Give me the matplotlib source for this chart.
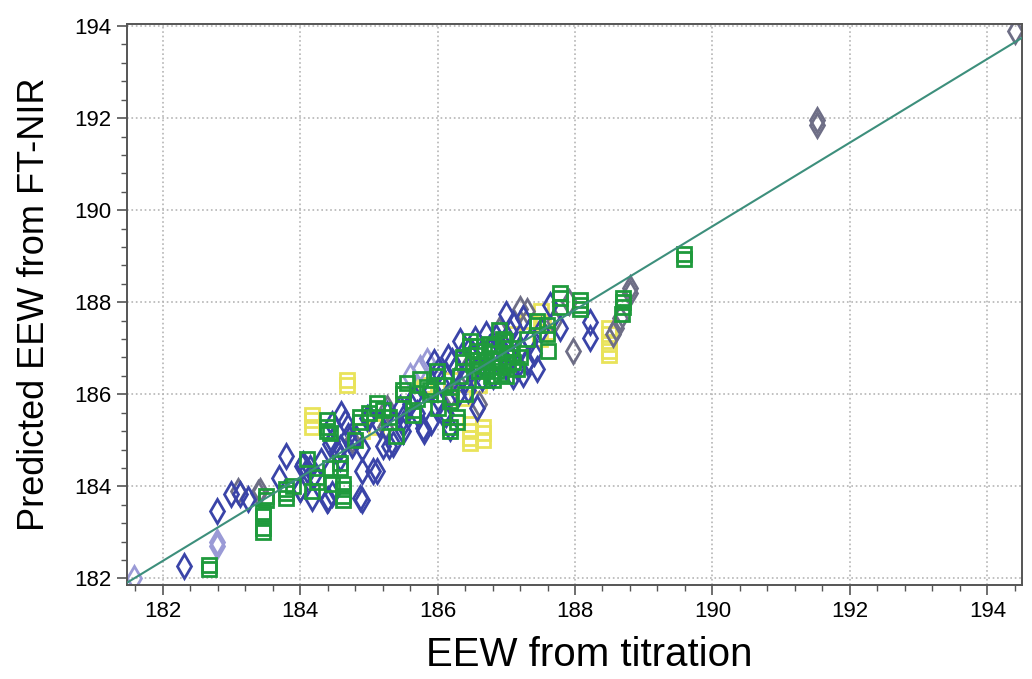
import matplotlib
matplotlib.use("Agg")
import matplotlib.pyplot as plt
from matplotlib.ticker import MultipleLocator
import numpy as np

# values (EEW from titration, predicted EEW)
blue_x = [182.31, 182.79, 183.0, 183.12, 183.24, 183.7, 183.8, 184.0, 184.03, 184.1,
          184.18, 184.4, 184.6, 184.58, 184.47, 184.9, 184.9, 184.9, 185.12, 185.2,
          185.3, 185.26, 185.49, 185.5, 185.79, 186.08, 186.18, 186.21, 186.32, 186.57,
          187.0, 187.1, 187.24, 187.63, 187.78, 188.22, 188.22, 185.8, 186.13, 185.6,
          185.35, 184.3, 184.7, 185.9, 186.0, 186.4, 186.6, 186.8, 186.9, 187.0,
          187.2, 187.4, 187.5, 186.7, 186.5, 185.7, 186.3, 187.1, 186.0, 185.9,
          184.2, 185.0, 184.04, 184.14, 184.39, 184.47, 184.53, 184.43, 184.87, 184.82,
          184.97, 184.58, 184.47, 185.06, 185.5, 187.3, 186.45,
          186.55, 186.75, 186.95, 187.15, 186.65, 186.85, 187.05, 187.35, 186.25, 186.05,
          185.65, 185.45, 185.15, 184.75, 184.65, 185.95, 186.35, 187.25, 187.45, 186.15]
blue_y = [182.28, 183.47, 183.84, 183.84, 183.72, 184.19, 184.66, 183.95, 184.45, 184.35,
          183.75, 183.73, 185.57, 184.84, 185.35, 184.34, 183.70, 184.84, 184.34, 184.88,
          184.88, 185.57, 185.48, 185.20, 185.27, 185.57, 185.27, 186.72, 187.15, 185.70,
          187.74, 187.52, 187.65, 187.95, 187.43, 187.58, 187.22, 185.20, 185.57, 185.79,
          184.92, 184.55, 185.10, 186.10, 185.90, 186.30, 186.60, 186.40, 187.10, 186.60,
          187.00, 186.90, 187.40, 187.30, 186.90, 185.60, 186.00, 186.40, 186.50, 185.40,
          184.25, 185.50, 184.49, 184.40, 183.70, 183.84, 184.77, 184.92, 183.75, 185.05,
          185.48, 184.62, 184.99, 184.34, 185.35, 186.70, 186.10,
          187.20, 187.00, 186.80, 186.60, 186.35, 187.25, 187.35, 187.15, 186.55, 186.25,
          185.95, 185.70, 185.35, 184.90, 185.40, 186.70, 186.85, 186.45, 186.55, 186.80]

grey_x = [183.41, 183.38, 184.0, 185.26, 185.23, 186.61, 187.3, 187.92, 187.97, 188.6,
          188.65, 188.8, 188.8, 188.55, 191.52, 191.52, 194.4, 187.7, 186.9, 186.2,
          183.1, 184.75, 187.2, 186.4]
grey_y = [183.90, 183.86, 183.95, 185.70, 185.30, 185.79, 187.80, 188.00, 186.94, 187.43,
          187.65, 188.30, 188.20, 187.30, 191.85, 191.95, 193.90, 187.60, 187.40, 186.00,
          183.90, 185.00, 187.85, 186.50]

lav_x = [181.58, 182.79, 182.79, 185.74, 185.84, 185.6]
lav_y = [182.00, 182.71, 182.80, 186.57, 186.72, 186.40]

green_x = [182.68, 182.68, 183.46, 183.46, 183.46, 183.46, 183.5, 183.5, 183.8, 183.8,
           183.8, 184.17, 184.24, 184.24, 184.43, 184.47, 184.62, 184.62, 184.58, 184.58,
           184.62, 184.62, 184.39, 184.39, 184.39, 184.43, 184.87, 184.87, 185.12, 185.12,
           185.3, 185.3, 185.49, 185.49, 185.64, 185.64, 185.89, 185.89, 185.99, 185.99,
           186.18, 186.18, 186.18, 186.18, 186.28, 186.28, 186.32, 186.37, 186.37, 186.47,
           186.47, 186.57, 186.57, 186.6, 186.7, 186.8, 186.9, 186.75, 187.0, 187.05,
           187.1, 186.85, 186.95, 187.2, 186.65, 186.8, 187.0, 187.44, 187.44, 187.59,
           187.59, 187.78, 187.78, 187.78, 188.07, 188.07, 188.07, 188.7, 188.7, 188.7,
           188.68, 189.58, 189.58, 185.0, 185.7, 186.0, 186.4, 185.4, 184.1, 183.9,
           185.74, 187.6, 187.3, 186.9, 187.15,
           186.62, 186.72, 186.82, 186.92, 187.02, 186.52, 186.68, 186.88, 187.08, 186.78,
           186.58, 186.98, 185.55, 185.85, 186.1, 184.8, 185.2]
green_y = [182.20, 182.30, 183.00, 183.10, 183.35, 183.45, 183.70, 183.80, 183.75, 183.85,
           183.95, 183.90, 184.10, 184.20, 184.40, 184.05, 183.95, 184.05, 184.40, 184.50,
           183.70, 183.80, 185.20, 185.30, 185.45, 185.15, 185.40, 185.50, 185.80, 185.70,
           185.40, 185.50, 186.00, 186.10, 185.55, 185.65, 186.00, 186.10, 186.40, 186.50,
           185.85, 185.95, 185.20, 185.30, 185.50, 185.40, 186.40, 186.70, 186.80, 187.05,
           187.15, 186.85, 186.95, 186.50, 186.70, 186.90, 186.60, 187.10, 186.80, 187.00,
           186.70, 186.50, 187.20, 186.80, 186.30, 186.30, 186.40, 187.50, 187.60, 187.50,
           187.30, 188.10, 188.20, 187.90, 187.95, 188.05, 187.85, 187.90, 188.00, 188.10,
           187.75, 188.95, 189.05, 185.60, 185.90, 185.70, 186.00, 185.10, 184.60, 184.00,
           186.33, 186.95, 187.20, 187.40, 186.55,
           186.75, 186.55, 187.05, 186.45, 186.65, 186.65, 186.95, 186.75, 186.90, 186.40,
           187.05, 187.15, 186.25, 186.15, 186.20, 185.00, 185.65]

yellow_x = [184.18, 184.18, 184.18, 184.68, 184.68, 185.5, 186.37, 186.47, 186.47, 186.47,
            186.47, 186.66, 186.66, 186.66, 186.2, 185.8, 187.49, 187.59, 187.3, 187.5,
            188.5, 188.5, 188.5, 188.5, 188.5, 185.1, 184.9, 186.6, 187.1, 187.53]
yellow_y = [185.30, 185.45, 185.55, 186.20, 186.30, 186.00, 185.92, 185.35, 185.20, 185.05,
            184.95, 185.30, 185.15, 185.00, 186.30, 186.20, 187.20, 187.35, 187.60, 187.80,
            187.45, 187.30, 187.10, 186.95, 186.85, 185.30, 185.20, 186.20, 187.30, 187.58]

# calibration line: predicted = slope * titration + intercept
fit_slope = 0.909
fit_intercept = 16.94
fit_range = [181.45, 194.55]

plt.rcParams['font.family'] = ['Liberation Sans', 'DejaVu Sans']

fig = plt.figure(figsize=(10.32, 6.79), dpi=100)
ax = fig.add_axes([0.123, 0.138, 0.867, 0.827])

diamond = dict(marker='d', linestyle='none', markersize=12.5, markerfacecolor='none',
               markeredgewidth=2.0)
square = dict(marker='s', linestyle='none', markersize=10, markerfacecolor='none',
              markeredgewidth=2.0)

ax.plot(yellow_x, yellow_y, markeredgecolor='#e9e35a', **square)
ax.plot(lav_x, lav_y, markeredgecolor='#9a9ad6', **diamond)
ax.plot(grey_x, grey_y, markeredgecolor='#6e6e86', **diamond)
ax.plot(blue_x, blue_y, markeredgecolor='#3a44a8', **diamond)
ax.plot(green_x, green_y, markeredgecolor='#1f9a3c', **square)

lx = np.array(fit_range)
ax.plot(lx, fit_slope * lx + fit_intercept, color='#3d8f7c', linewidth=1.5, zorder=5)

ax.set_xlim(181.48, 194.5)
ax.set_ylim(181.85, 194.05)
ax.xaxis.set_major_locator(MultipleLocator(2))
ax.xaxis.set_minor_locator(MultipleLocator(0.4))
ax.yaxis.set_major_locator(MultipleLocator(2))
ax.yaxis.set_minor_locator(MultipleLocator(0.4))

ax.grid(True, which='major', color='#b5b5b5', linestyle=':', linewidth=1.2)
ax.set_axisbelow(True)
for s in ax.spines.values():
    s.set_color('#555555')
    s.set_linewidth(1.4)

ax.tick_params(which='major', direction='out', length=7, width=1.2, color='#555555',
               labelsize=16, pad=4)
ax.tick_params(which='minor', direction='out', length=4, width=1.0, color='#555555')

ax.set_xlabel('EEW from titration', fontsize=29)
ax.xaxis.set_label_coords(0.517, -0.09)
ax.set_ylabel('Predicted EEW from FT-NIR', fontsize=26, labelpad=16)

fig.savefig('out.png', dpi=100)
